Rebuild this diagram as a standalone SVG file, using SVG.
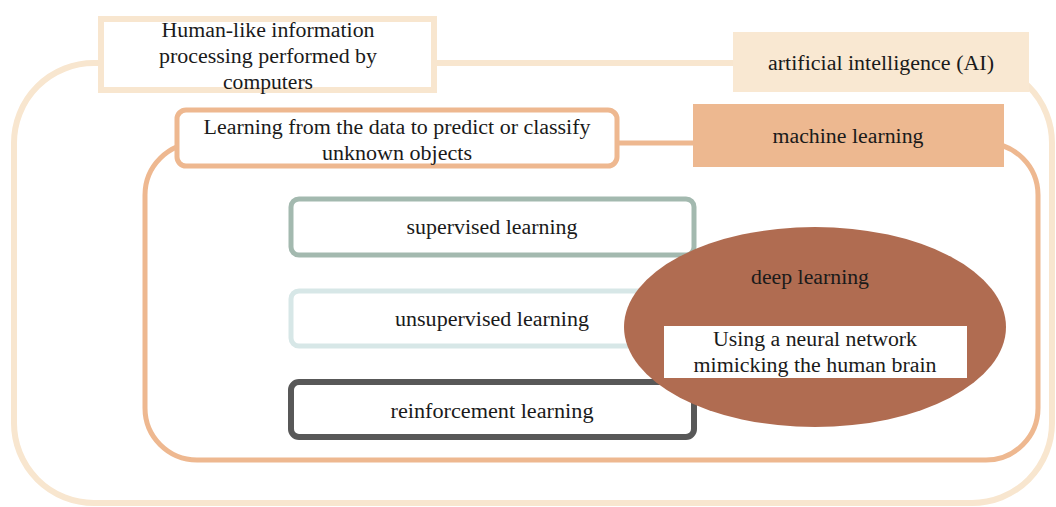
<svg xmlns="http://www.w3.org/2000/svg" width="1056" height="507" viewBox="0 0 1056 507" font-family="Liberation Serif, Times New Roman, serif">
<style>
text{font-family:'Liberation Serif','Times New Roman',Times,serif;font-size:20px;fill:#1a1a1a;text-anchor:middle}
.frame{fill:none}
</style>
<rect width="1056" height="507" fill="#ffffff"/>
<g id="ai">
<rect class="frame" x="14" y="63" width="1038" height="440" rx="80" stroke="#F8E6CF" stroke-width="6"/>
</g>
<g id="ai-desc">
<rect x="101" y="19" width="333" height="71" fill="#ffffff" stroke="#F8E6CF" stroke-width="6"/>
<text x="268" y="37" textLength="213" lengthAdjust="spacingAndGlyphs">Human-like information</text>
<text x="268" y="63" textLength="218" lengthAdjust="spacingAndGlyphs">processing performed by</text>
<text x="268" y="89" textLength="90" lengthAdjust="spacingAndGlyphs">computers</text>
</g>
<g id="ai-label">
<rect x="733" y="32" width="296" height="60" fill="#F9E8D2"/>
<text x="881" y="70" textLength="226" lengthAdjust="spacingAndGlyphs">artificial intelligence (AI)</text>
</g>
<g id="ml">
<rect class="frame" x="145" y="143" width="893" height="317" rx="52" stroke="#EEB890" stroke-width="5"/>
</g>
<g id="ml-desc">
<rect x="177" y="110" width="440" height="56" rx="9" fill="#ffffff" stroke="#EEB890" stroke-width="5"/>
<text x="397" y="134" textLength="387" lengthAdjust="spacingAndGlyphs">Learning from the data to predict or classify</text>
<text x="397" y="160" textLength="150" lengthAdjust="spacingAndGlyphs">unknown objects</text>
</g>
<g id="ml-label">
<rect x="693" y="104" width="311" height="63" fill="#EDB890"/>
<text x="848" y="143" textLength="151" lengthAdjust="spacingAndGlyphs">machine learning</text>
</g>
<g id="supervised">
<rect x="291" y="199" width="403" height="56" rx="8" fill="#ffffff" stroke="#A3B9AF" stroke-width="5"/>
<text x="492" y="234" textLength="171" lengthAdjust="spacingAndGlyphs">supervised learning</text>
</g>
<g id="unsupervised">
<rect x="291" y="291" width="403" height="55" rx="8" fill="#ffffff" stroke="#D7E7E7" stroke-width="5"/>
<text x="492" y="326" textLength="194" lengthAdjust="spacingAndGlyphs">unsupervised learning</text>
</g>
<g id="reinforcement">
<rect x="291" y="382" width="403" height="55" rx="8" fill="#ffffff" stroke="#585858" stroke-width="6"/>
<text x="492" y="418" textLength="203" lengthAdjust="spacingAndGlyphs">reinforcement learning</text>
</g>
<g id="deep-learning">
<ellipse cx="815" cy="327" rx="191" ry="100" fill="#B06C51"/>
<text x="810" y="284" textLength="118" lengthAdjust="spacingAndGlyphs">deep learning</text>
<rect x="664" y="326" width="303" height="52" fill="#ffffff"/>
<text x="815" y="346" textLength="204" lengthAdjust="spacingAndGlyphs">Using a neural network</text>
<text x="815" y="372" textLength="243" lengthAdjust="spacingAndGlyphs">mimicking the human brain</text>
</g>
<g id="connectors"></g>
</svg>
